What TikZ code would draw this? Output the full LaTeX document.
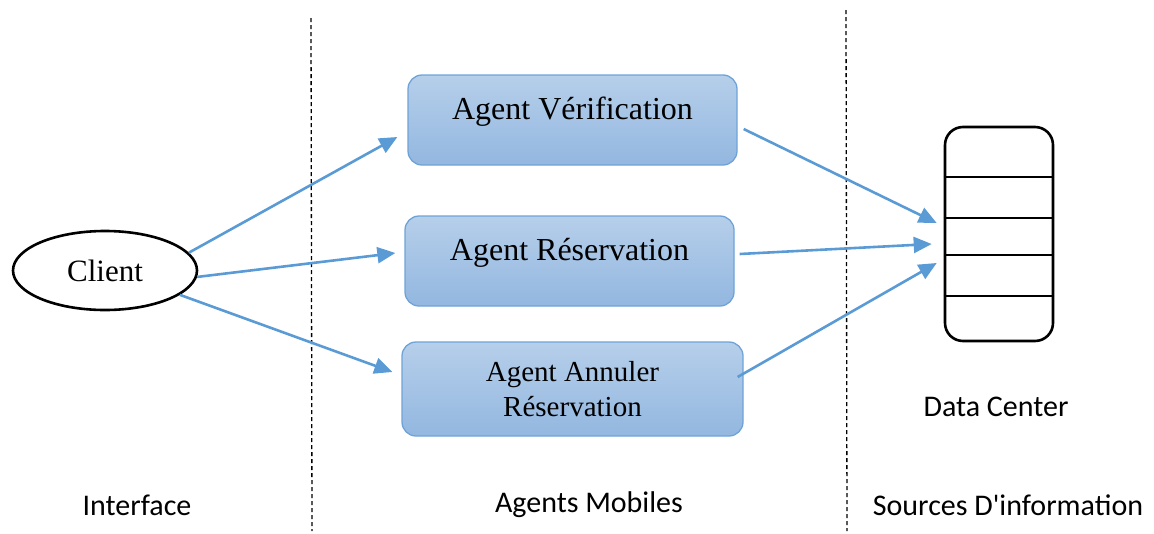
\documentclass[tikz,border=0pt]{standalone}
\usepackage{fontspec}
\setmainfont{Liberation Serif}
\newfontfamily\labelfont{Carlito}
\usetikzlibrary{arrows.meta,shapes.geometric}

\definecolor{agentedge}{HTML}{6FA3D8}
\definecolor{agenttop}{HTML}{B6CFEA}
\definecolor{agentbot}{HTML}{93B7E0}
\definecolor{flow}{HTML}{5B9BD5}

\tikzset{
  agent/.style={draw=agentedge, line width=1.3pt, rounded corners=14pt,
    top color=agenttop, bottom color=agentbot, align=center,
    font=\fontsize{32}{36}\selectfont},
  raised/.style={text depth=24pt},
  actor/.style={draw, ellipse, line width=2.6pt, minimum width=184pt,
    minimum height=79pt, font=\fontsize{31}{36}\selectfont},
  store/.style={draw, line width=2.6pt, rounded corners=18pt,
    minimum width=108pt, minimum height=214pt},
  flowarrow/.style={draw=flow, line width=2.6pt,
    -{Triangle[length=18pt,width=16pt]}},
  divider/.style={line width=1.3pt, dash pattern=on 4pt off 3pt},
  zone/.style={font=\labelfont\fontsize{30}{34}\selectfont},
}

\begin{document}
\begin{tikzpicture}[x=1pt,y=-1pt]
\useasboundingbox (0,0) rectangle (1154,533);

% zone separators
\coordinate (d1t) at (311,18);  \coordinate (d1b) at (312,531);
\coordinate (d2t) at (846,10);  \coordinate (d2b) at (847,531);
\draw[divider] (d1t) -- (d1b);
\draw[divider] (d2t) -- (d2b);

% client
\node[actor] (client) at (105,270.5) {Client};

% mobile agents
\node[agent, raised, minimum width=329pt, minimum height=90pt] (verif) at (572.5,120) {Agent Vérification};
\node[agent, raised, minimum width=329pt, minimum height=90pt] (reserv) at (569.5,261) {Agent Réservation};
\node[agent, minimum width=341pt, minimum height=94pt,
      font=\fontsize{29}{35}\selectfont] (annul) at (572.5,389) {Agent Annuler\\Réservation};

% data center storage
\node[store] (dc) at (999,234) {};
\foreach \yy in {177,218,255,296}
  \draw[line width=2.6pt] (dc.west |- 0,\yy) -- (dc.east |- 0,\yy);

% labels
\node[zone] (lint) at (137,505) {Interface};
\node[zone] (lag) at (589,505) {Agents Mobiles};
\node[zone] (lsrc) at (1008,505) {Sources D'information};
\node[zone] (ldc) at (996,407) {Data Center};

% client to agents
\draw[flowarrow] (client.12) -- ([xshift=-10pt,yshift=-17pt]verif.west);
\draw[flowarrow] (client.-4) -- ([xshift=-9pt,yshift=8pt]reserv.west);
\draw[flowarrow] (client.-18) -- ([xshift=-9pt,yshift=17pt]annul.west);

% agents to data center
\draw[flowarrow] ([xshift=6pt,yshift=-9pt]verif.east) -- ([xshift=-7pt,yshift=11pt]dc.west);
\draw[flowarrow] ([xshift=5pt,yshift=7pt]reserv.east) -- ([xshift=-12pt,yshift=-10pt]dc.west);
\draw[flowarrow] ([xshift=-6pt,yshift=12pt]annul.east) -- ([xshift=-7pt,yshift=-29pt]dc.west);
\end{tikzpicture}
\end{document}
